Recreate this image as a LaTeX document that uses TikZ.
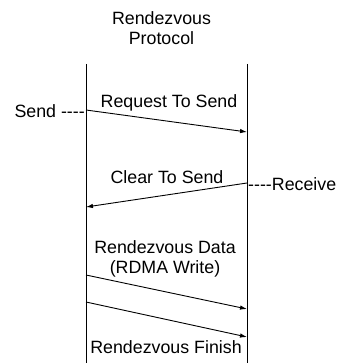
\documentclass[tikz,border=0pt]{standalone}
\usepackage{fontspec}
\setmainfont{Liberation Sans}
\usetikzlibrary{arrows.meta}
\begin{document}
\begin{tikzpicture}[x=1pt,y=-1pt,
  lbl/.style={inner sep=0pt,font=\fontsize{17.8}{20}\selectfont},
  life/.style={line width=0.9pt},
  msg/.style={line width=0.9pt,-{Latex[length=7pt,width=4.5pt]}}]
\useasboundingbox (0,0) rectangle (339,363);
% lifelines
\coordinate (lt) at (86,64);  \coordinate (lb) at (86,363);
\coordinate (rt) at (247,64); \coordinate (rb) at (247,363);
\draw[life] (lt) -- (lb);
\draw[life] (rt) -- (rb);
% title
\node[lbl,anchor=base] (t1) at (161.5,25) {Rendezvous};
\node[lbl,anchor=base] (t2) at (161.5,45) {Protocol};
% message endpoints
\coordinate (a1) at (86,110);  \coordinate (b1) at (247,132);
\coordinate (a2) at (247,183); \coordinate (b2) at (86,207);
\coordinate (a3) at (86,275);  \coordinate (b3) at (247,309);
\coordinate (a4) at (86,302);  \coordinate (b4) at (247,337);
\draw[msg] (a1) -- (b1);
\draw[msg] (a2) -- (b2);
\draw[msg] (a3) -- (b3);
\draw[msg] (a4) -- (b4);
% labels (hyphens kept apart so they are not joined into dashes)
\node[lbl,anchor=base east] (snd) at (85,118) {Send -{}-{}-{}-};
\node[lbl,anchor=base west] (rcv) at (248,190) {-{}-{}-{}-Receive};
\node[lbl,anchor=base] (rts) at (169,108) {Request To Send};
\node[lbl,anchor=base] (cts) at (167,183) {Clear To Send};
\node[lbl,anchor=base] (rd1) at (165,253) {Rendezvous Data};
\node[lbl,anchor=base] (rd2) at (165,273) {(RDMA Write)};
\node[lbl,anchor=base] (fin) at (166,353) {Rendezvous Finish};
\end{tikzpicture}
\end{document}
